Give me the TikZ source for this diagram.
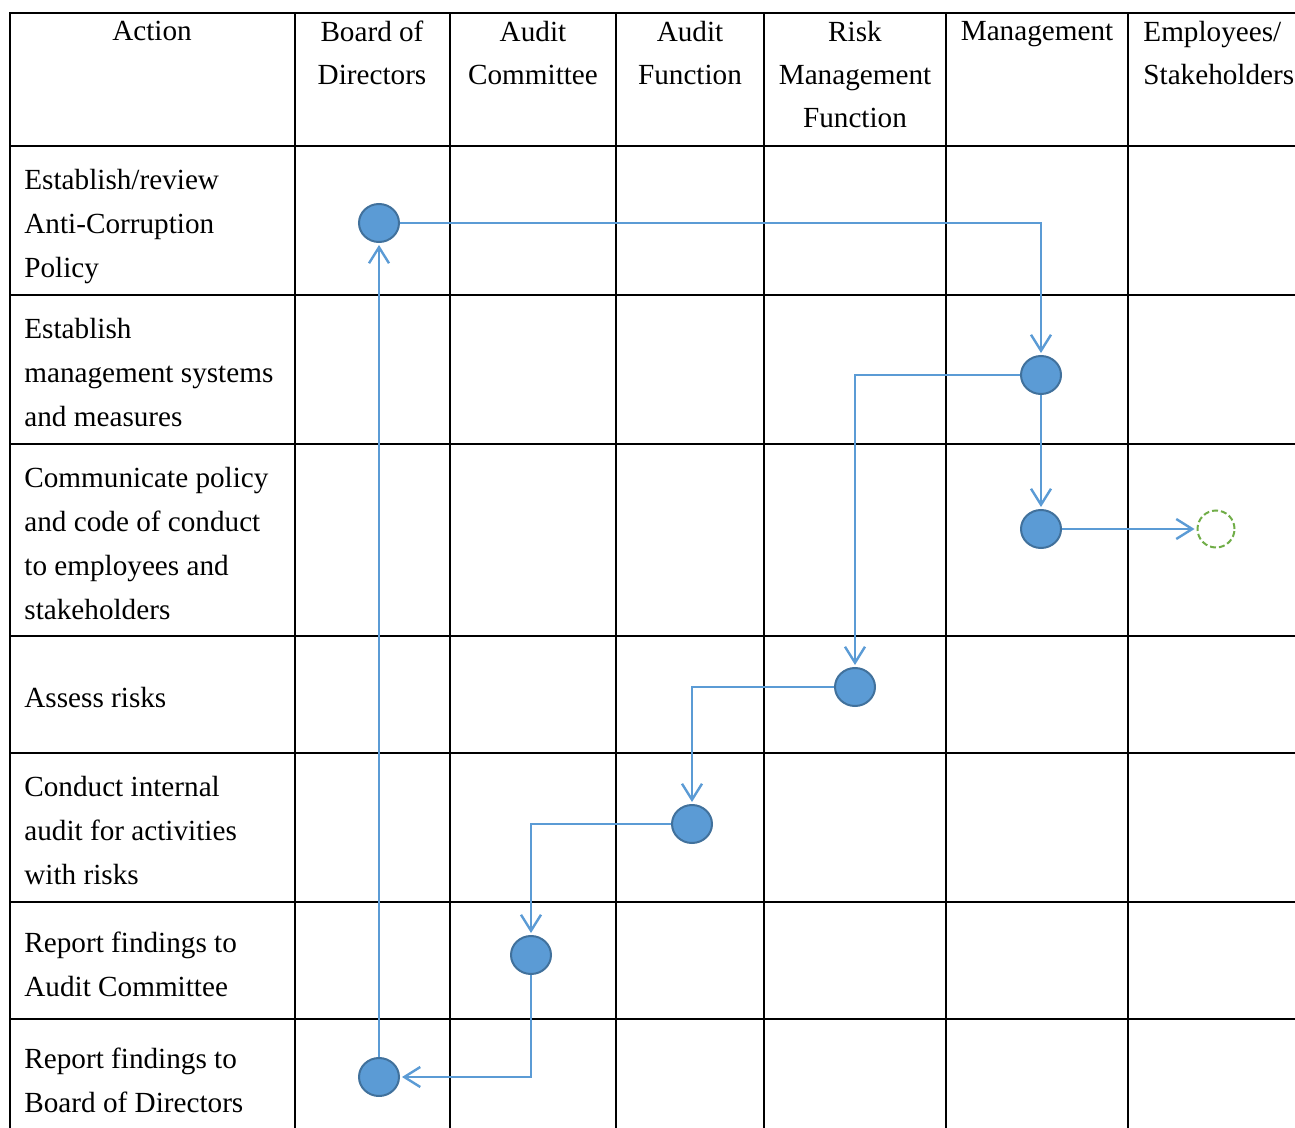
\documentclass[tikz,border=0pt]{standalone}
\usepackage{fontspec}
\setmainfont{Liberation Serif}
\usetikzlibrary{positioning, arrows.meta, shapes.geometric}
\definecolor{dotFill}{HTML}{5B9BD5}
\definecolor{dotLine}{HTML}{41719C}
\definecolor{flowLine}{HTML}{5B9BD5}
\definecolor{extLine}{HTML}{70AD47}
\begin{document}
\begin{tikzpicture}[x=0.5pt, y=-0.5pt,
  grid/.style={line width=1pt, draw=black},
  hdr/.style={anchor=north, align=center, inner sep=0pt, font=\fontsize{14.6}{21.5}\selectfont},
  act/.style={anchor=west, align=left, inner sep=0pt, font=\fontsize{14.6}{22}\selectfont},
  dot/.style={ellipse, draw=dotLine, fill=dotFill, line width=1pt, minimum width=20pt, minimum height=19pt, inner sep=0pt},
  ext/.style={circle, draw=extLine, dashed, dash pattern=on 3pt off 1.5pt, line width=1pt, minimum size=18.5pt, inner sep=0pt},
  flow/.style={draw=flowLine, line width=1.2pt, -{Straight Barb[length=8pt, width=10pt]}, shorten >=1pt}]
\useasboundingbox (0,0) rectangle (1295,1128);
\draw[grid] (10,1128) -- (10,13) -- (1295,13);
\foreach \y in {146,295,444,636,753,902,1019} \draw[grid] (10,\y) -- (1295,\y);
\foreach \x in {295,450,616,764,946,1128} \draw[grid] (\x,13) -- (\x,1128);
\node[hdr] (hAct) at (152,21) {Action};
\node[hdr] (hBoard) at (372,21) {Board of\\Directors};
\node[hdr] (hComm) at (533,21) {Audit\\Committee};
\node[hdr] (hAudit) at (690,21) {Audit\\Function};
\node[hdr] (hRisk) at (855,21) {Risk\\Management\\Function};
\node[hdr] (hMgmt) at (1037,21) {Management};
\node[hdr, anchor=north west, align=left] (hEmp) at (1143,21) {Employees/\\Stakeholders};
\node[act] (a1) at (24,227) {Establish/review\\Anti-Corruption\\Policy};
\node[act] (a2) at (24,373) {Establish\\management systems\\and measures};
\node[act] (a3) at (24,543.5) {Communicate policy\\and code of conduct\\to employees and\\stakeholders};
\node[act] (a4) at (24,698) {Assess risks};
\node[act] (a5) at (24,831) {Conduct internal\\audit for activities\\with risks};
\node[act] (a6) at (24,964) {Report findings to\\Audit Committee};
\node[act] (a7) at (24,1080.5) {Report findings to\\Board of Directors};
\node[dot] (bd1) at (379,223) {};
\node[dot] (mg2) at (1041,375) {};
\node[dot] (mg3) at (1041,529) {};
\node[ext] (es3) at (1216,529) {};
\node[dot] (rk4) at (855,687) {};
\node[dot] (af5) at (692,824) {};
\node[dot] (ac6) at (531,955) {};
\node[dot] (bd7) at (379,1077) {};
\draw[flow] (bd1.east) -| (mg2.north);
\draw[flow] (mg2.west) -| (rk4.north);
\draw[flow] (mg2.south) -- (mg3.north);
\draw[flow] (mg3.east) -- (es3.west);
\draw[flow] (rk4.west) -| (af5.north);
\draw[flow] (af5.west) -| (ac6.north);
\draw[flow] (ac6.south) |- (bd7.east);
\draw[flow] (bd7.north) -- (bd1.south);
\end{tikzpicture}
\end{document}
